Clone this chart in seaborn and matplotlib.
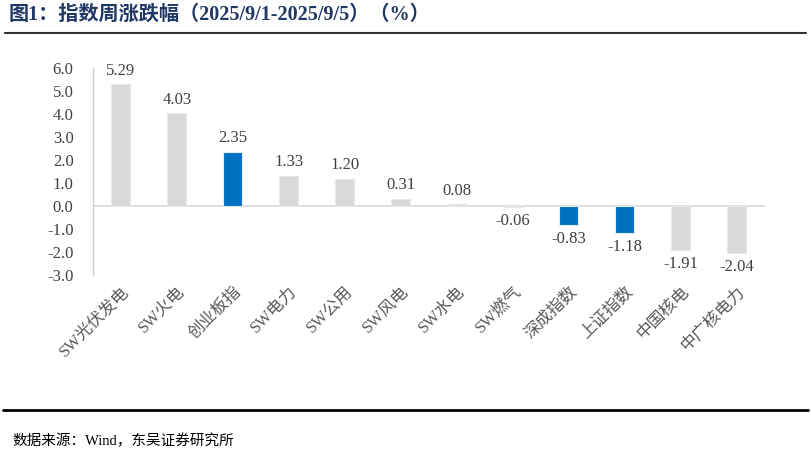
import matplotlib
matplotlib.use("Agg")
from matplotlib import pyplot as plt
from matplotlib.lines import Line2D
import seaborn as sns
import pandas as pd

categories = ["SW光伏发电", "SW火电", "创业板指", "SW电力", "SW公用", "SW风电",
              "SW水电", "SW燃气", "深成指数", "上证指数", "中国核电", "中广核电力"]
values = [5.29, 4.03, 2.35, 1.33, 1.20, 0.31, 0.08, -0.06, -0.83, -1.18, -1.91, -2.04]
highlight = ["创业板指", "深成指数", "上证指数"]
y_ticks = [6.0, 5.0, 4.0, 3.0, 2.0, 1.0, 0.0, -1.0, -2.0, -3.0]

title = "图1：指数周涨跌幅（2025/9/1-2025/9/5）（%）"
source = "数据来源：Wind，东吴证券研究所"

sns.set_theme(style="white")
fonts = ["Liberation Serif", "Noto Sans CJK SC", "DejaVu Sans"]
plt.rcParams["font.family"] = fonts

df = pd.DataFrame({"name": categories, "value": values})
df["group"] = ["hl" if c in highlight else "base" for c in categories]

fig = plt.figure(figsize=(8.12, 4.57), dpi=100)
ax = fig.add_axes([0.1145, 0.398, 0.8275, 0.453])

sns.barplot(data=df, x="name", y="value", hue="group", order=categories,
            palette={"base": "#d9d9d9", "hl": "#0070c0"}, width=0.34, saturation=1,
            dodge=False, legend=False, edgecolor="#e8e8e8", linewidth=0.8, ax=ax)

text_color = "#404040"
for i, v in enumerate(values):
    if v >= 0:
        ax.annotate(f"{v:.2f}", (i, v), xytext=(0, 4), textcoords="offset points",
                    ha="center", va="bottom", fontsize=12, color=text_color)
    else:
        ax.annotate(f"{v:.2f}", (i, v), xytext=(0, -4), textcoords="offset points",
                    ha="center", va="top", fontsize=12, color=text_color)

ax.set_ylim(-3, 6)
ax.set_xlim(-0.5, len(categories) - 0.5)
ax.set_yticks(y_ticks)
ax.set_yticklabels([f"{t:.1f}" for t in y_ticks], fontsize=12, color=text_color)
ax.set_xticks(range(len(categories)))
ax.set_xticklabels(categories, rotation=45, ha="right", rotation_mode="anchor",
                   fontsize=12, color="#595959")
ax.tick_params(axis="x", length=0, pad=6)
ax.tick_params(axis="y", length=0, pad=14)
ax.set_xlabel("")
ax.set_ylabel("")

for s in ["top", "right", "bottom"]:
    ax.spines[s].set_visible(False)
ax.spines["left"].set_color("#d0d0d0")
ax.spines["left"].set_linewidth(1)
ax.axhline(0, color="#d9d9d9", linewidth=1.2, zorder=0)

fig.text(0.01, 0.967, title, fontsize=14.5, fontweight="bold", color="#1f3864",
         va="center", ha="left", family=fonts)
fig.add_artist(Line2D([0.006, 0.993], [0.928, 0.928], color="#333333", linewidth=1.5))
fig.add_artist(Line2D([0.004, 0.995], [0.103, 0.103], color="#000000", linewidth=2))
fig.text(0.015, 0.035, source, fontsize=10.5, color="#000000", va="center", ha="left",
         family=fonts)

fig.savefig("out.png", dpi=100)
